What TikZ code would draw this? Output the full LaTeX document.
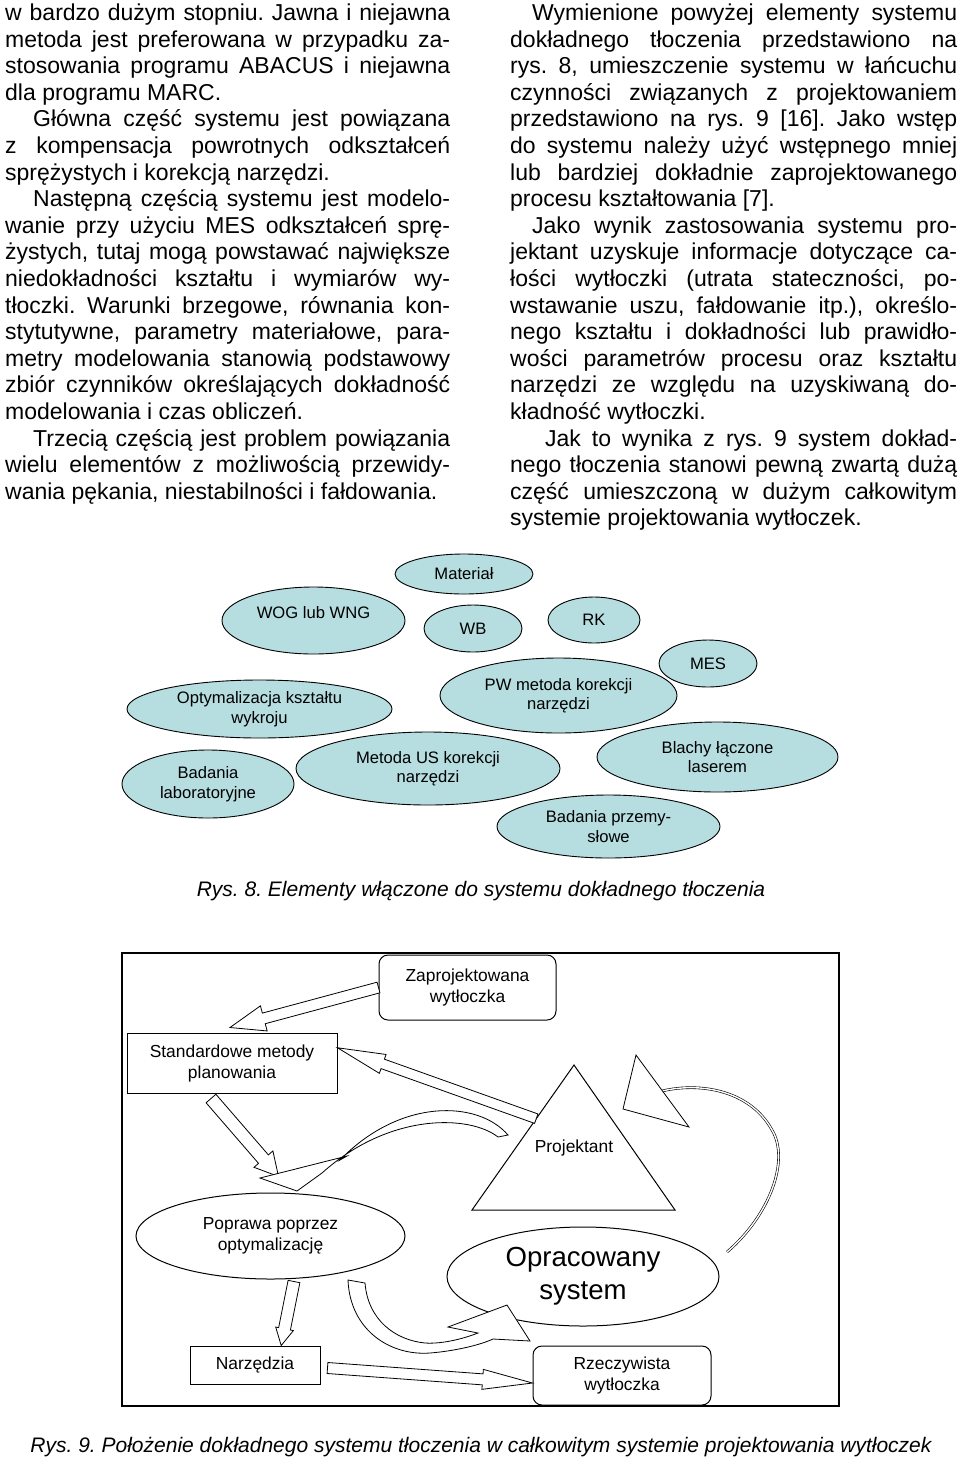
\documentclass[tikz,border=0pt]{standalone}
\usepackage{fontspec}
\setmainfont{Liberation Sans}
\usetikzlibrary{shapes.geometric,calc}

\definecolor{bubblecol}{RGB}{182,221,224}

\tikzset{
  para/.style={inner sep=0pt, anchor=base west, align=justify,
    font=\fontsize{23}{26.6}\selectfont},
  bubble/.style={ellipse, draw, fill=bubblecol, line width=0.9pt, inner sep=0pt,
    align=center, font=\fontsize{16.6}{19.5}\selectfont},
  box/.style={draw, line width=1pt, inner sep=0pt, align=center,
    font=\fontsize{17.4}{21}\selectfont},
  oval/.style={ellipse, draw, line width=1pt, inner sep=0pt, align=center},
  blockarrow/.style={draw, fill=white, line width=0.8pt, line join=miter},
  doubleline/.style={draw, line width=0.6pt, double=white, double distance=1.4pt},
  caption/.style={inner sep=0pt, anchor=base, font=\fontsize{21}{25}\selectfont\itshape},
  frame/.style={draw, line width=1.2pt}
}

% straight block arrow: tail, tip, half shaft, half head, head length
\newcommand{\blockarrow}[5]{%
  \coordinate (neck) at ($(#2)!#5!(#1)$);
  \draw[blockarrow] ($(#1)!#3!90:(#2)$) -- ($(neck)!#3!-90:(#1)$)
    -- ($(neck)!#4!-90:(#1)$) -- (#2) -- ($(neck)!#4!90:(#1)$)
    -- ($(neck)!#3!90:(#1)$) -- ($(#1)!#3!-90:(#2)$) -- cycle;}

\begin{document}
\begin{tikzpicture}[x=1pt, y=-1pt]
\useasboundingbox (0,0) rectangle (960,1460);
\tolerance=10000 \hbadness=10000 \hyphenpenalty=10000 \frenchspacing

% columns of text
\node[para, text width=445pt] (lcol) at (5,20.5) {\frenchspacing
w bardzo dużym stopniu. Jawna i niejawna\linebreak
metoda jest preferowana w przypadku za-\linebreak
stosowania programu ABACUS i niejawna\linebreak
dla programu MARC.\par
\hspace*{28pt}Główna część systemu jest powiązana\linebreak
z kompensacja powrotnych odkształceń\linebreak
sprężystych i korekcją narzędzi.\par
\hspace*{28pt}Następną częścią systemu jest modelo-\linebreak
wanie przy użyciu MES odkształceń sprę-\linebreak
żystych, tutaj mogą powstawać największe\linebreak
niedokładności kształtu i wymiarów wy-\linebreak
tłoczki. Warunki brzegowe, równania kon-\linebreak
stytutywne, parametry materiałowe, para-\linebreak
metry modelowania stanowią podstawowy\linebreak
zbiór czynników określających dokładność\linebreak
modelowania i czas obliczeń.\par
\hspace*{28pt}Trzecią częścią jest problem powiązania\linebreak
wielu elementów z możliwością przewidy-\linebreak
wania pękania, niestabilności i fałdowania.};

\node[para, text width=447pt] (rcol) at (510,20.5) {\frenchspacing
\hspace*{22pt}Wymienione powyżej elementy systemu\linebreak
dokładnego tłoczenia przedstawiono na\linebreak
rys.~8, umieszczenie systemu w łańcuchu\linebreak
czynności związanych z projektowaniem\linebreak
przedstawiono na rys.~9 [16]. Jako wstęp\linebreak
do systemu należy użyć wstępnego mniej\linebreak
lub bardziej dokładnie zaprojektowanego\linebreak
procesu kształtowania [7].\par
\hspace*{22pt}Jako wynik zastosowania systemu pro-\linebreak
jektant uzyskuje informacje dotyczące ca-\linebreak
łości wytłoczki (utrata stateczności, po-\linebreak
wstawanie uszu, fałdowanie itp.), określo-\linebreak
nego kształtu i dokładności lub prawidło-\linebreak
wości parametrów procesu oraz kształtu\linebreak
narzędzi ze względu na uzyskiwaną do-\linebreak
kładność wytłoczki.\par
\hspace*{35pt}Jak to wynika z rys.~9 system dokład-\linebreak
nego tłoczenia stanowi pewną zwartą dużą\linebreak
część umieszczoną w dużym całkowitym\linebreak
systemie projektowania wytłoczek.};

% Rys. 8
\node[bubble, minimum width=138pt, minimum height=40pt] (mat) at (464,574) {Materiał};
\node[bubble, minimum width=183pt, minimum height=67pt, text depth=16pt] (wog) at (313.5,620.5) {WOG lub WNG};
\node[bubble, minimum width=98pt, minimum height=47pt] (wb) at (473,628.5) {WB};
\node[bubble, minimum width=92pt, minimum height=46pt] (rk) at (594,620) {RK};
\node[bubble, minimum width=98pt, minimum height=47pt] (mes) at (708,663.5) {MES};
\node[bubble, minimum width=237pt, minimum height=75pt] (pw) at (558.5,695.5) {PW metoda korekcji\\narzędzi};
\node[bubble, minimum width=265pt, minimum height=58pt] (opt) at (259.5,709) {Optymalizacja kształtu\\wykroju};
\node[bubble, minimum width=264pt, minimum height=73pt] (us) at (428,768.5) {Metoda US korekcji\\narzędzi};
\node[bubble, minimum width=172pt, minimum height=68pt] (lab) at (208,784) {Badania\\laboratoryjne};
\node[bubble, minimum width=241pt, minimum height=70pt] (las) at (717.5,757) {Blachy łączone\\laserem};
\node[bubble, minimum width=223pt, minimum height=63pt] (prz) at (608.5,826.5) {Badania przemy-\\słowe};
\node[caption] (cap8) at (481,896) {Rys. 8. Elementy włączone do systemu dokładnego tłoczenia};

% Rys. 9
\draw[frame] (122,953) rectangle (839,1406);
\node[box, rounded corners=9pt, minimum width=177pt, minimum height=65pt] (zap) at (467.5,987.5) {Zaprojektowana\\wytłoczka};
\node[box, minimum width=210pt, minimum height=60pt] (std) at (232,1063) {Standardowe metody\\planowania};
\coordinate (pt) at (574,1065);
\coordinate (pl) at (472,1210);
\coordinate (pr) at (675,1210);
\draw[line width=1pt] (pt) -- (pr) -- (pl) -- cycle;
\node[box, draw=none] (proj) at (574,1148) {Projektant};
\node[oval, minimum width=269pt, minimum height=86pt, font=\fontsize{17.4}{21}\selectfont] (pop) at (270.5,1236) {Poprawa poprzez\\optymalizację};
\node[oval, minimum width=272pt, minimum height=99pt, font=\fontsize{27.6}{33}\selectfont] (opr) at (583,1276.5) {Opracowany\\system};
\node[box, minimum width=130pt, minimum height=38pt] (narz) at (255,1365) {Narzędzia};
\node[box, rounded corners=9pt, minimum width=178pt, minimum height=59pt] (rzecz) at (622,1375.5) {Rzeczywista\\wytłoczka};

% straight arrows
\coordinate (a1e) at ($(std.north)+(-2,-5)$);
\blockarrow{zap.west}{a1e}{5.5pt}{13pt}{35pt}
\coordinate (a2s) at ($(pt)!0.37!(pl)$);
\coordinate (a2e) at ($(std.north east)!0.5!(std.east)$);
\blockarrow{a2s}{a2e}{5pt}{10pt}{48pt}
\coordinate (a3s) at ($(std.south)+(-21,5)$);
\coordinate (a3e) at ($(pop.north)+(8,-16)$);
\blockarrow{a3s}{a3e}{6.5pt}{12.5pt}{23pt}
\coordinate (a4s) at ($(pop.south)+(23.5,2)$);
\coordinate (a4e) at ($(narz.north east)!0.6!(narz.north)$);
\blockarrow{a4s}{a4e}{6pt}{9pt}{17pt}
\coordinate (a5s) at ($(narz.east)+(7,3)$);
\coordinate (a5e) at ($(rzecz.west)+(0,7.5)$);
\blockarrow{a5s}{a5e}{5.5pt}{10pt}{50pt}

% curved arrows
\draw[blockarrow] (508,1135) .. controls (478,1100) and (400,1098) .. (340,1160)
  -- (347,1156) -- (260,1178) -- (297,1191) -- (322,1173)
  .. controls (390,1112) and (470,1115) .. (498,1137) -- cycle;
\draw[blockarrow] (348,1280) .. controls (350,1330) and (390,1356) .. (430,1353)
  .. controls (455,1351) and (480,1345) .. (493,1339) -- (530,1341) -- (507,1305)
  -- (448,1327) -- (478,1333) .. controls (460,1340) and (440,1344) .. (425,1343)
  .. controls (395,1340) and (368,1320) .. (365,1283) -- cycle;
\coordinate (c3s) at (727,1252);
\coordinate (c3e) at (662,1091);
\draw[doubleline] (c3s) .. controls (770,1215) and (790,1160) .. (772,1130)
  .. controls (750,1090) and (700,1082) .. (c3e);
\draw[blockarrow] (636,1055) -- (623,1109) -- (689,1127) -- cycle;
\node[caption] (cap9) at (481,1452) {Rys. 9. Położenie dokładnego systemu tłoczenia w całkowitym systemie projektowania wytłoczek};
\end{tikzpicture}
\end{document}
